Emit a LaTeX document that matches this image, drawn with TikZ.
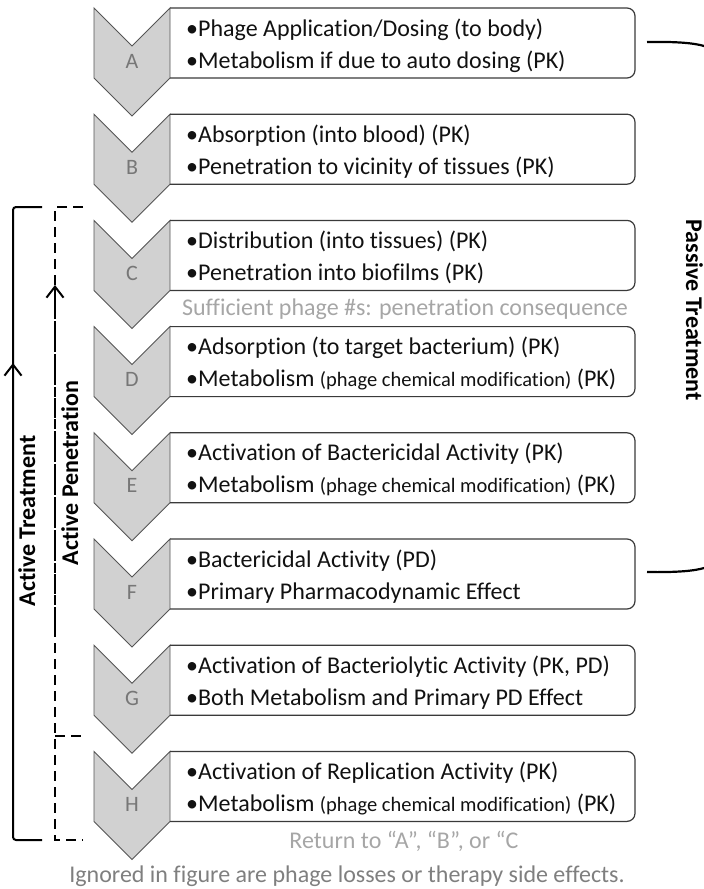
\documentclass[tikz,border=0pt]{standalone}
\usepackage{fontspec}
\setmainfont{Carlito}[Ligatures={NoCommon}]
\usetikzlibrary{arrows.meta}
\definecolor{chevfill}{HTML}{D1D1D1}
\definecolor{chevline}{HTML}{555555}
\definecolor{boxline}{HTML}{3A3A3A}
\definecolor{lettergray}{HTML}{777777}
\definecolor{capgray}{HTML}{A6A6A6}
\definecolor{notegray}{HTML}{7F7F7F}
\definecolor{txt}{HTML}{111111}
\newcommand\dgMain{\fontsize{24}{28}\selectfont}
\newcommand\dgSmall{\fontsize{20.5}{24}\selectfont}
\newcommand\dgLetter{\fontsize{22}{24}\selectfont}
\newcommand\dgstage[4]{%
  \pgfmathsetmacro\tp{8+106.2*#1}
  \draw[chev] (94,\tp) -- (132,\tp+38) -- (170,\tp) -- (170,\tp+70) -- (132,\tp+108) -- (94,\tp+70) -- cycle;
  \node[boxshape] (box#2) at (170,\tp) {};
  \draw[boxstroke] (box#2.north west) [rounded corners=8pt] -- (box#2.north east) -- (box#2.south east) -- (box#2.south west);
  \node[lettertext] (L#2) at (132,\tp+60) {#2};
  \node[linetext] (t#2a) at (186,\tp+28) {•#3};
  \node[linetext] (t#2b) at (186,\tp+60) {•#4};
}
\begin{document}
\begin{tikzpicture}[x=1pt,y=-1pt,
  chev/.style={fill=chevfill,draw=chevline,line width=0.9pt,line join=miter},
  boxshape/.style={draw=none,anchor=north west,minimum width=465pt,minimum height=70pt,inner sep=0pt,outer sep=0pt},
  boxstroke/.style={draw=boxline,line width=1.2pt},
  lettertext/.style={anchor=base,inner sep=0pt,text=lettergray,font=\dgLetter},
  linetext/.style={anchor=base west,inner sep=0pt,text=txt,font=\dgMain},
  captext/.style={anchor=base,inner sep=0pt,text=capgray,font=\dgMain},
  notetext/.style={anchor=base,inner sep=0pt,text=notegray,font=\dgMain},
  sidelabel/.style={anchor=base,inner sep=0pt,text=black,font=\dgMain\bfseries},
  bracket/.style={draw=black,line width=2pt},
  dbracket/.style={draw=black,line width=2pt,dash pattern=on 10pt off 6pt},
  barb/.style={-{Straight Barb[length=11pt,width=17pt,line width=2pt]}},
  brace/.style={draw=black,line width=2.2pt,line cap=butt}
]
\useasboundingbox (0,0) rectangle (704,889);

\dgstage{0}{A}{Phage Application/Dosing (to body)}{Metabolism if due to auto dosing (PK)}
\dgstage{1}{B}{Absorption (into blood) (PK)}{Penetration to vicinity of tissues (PK)}
\dgstage{2}{C}{Distribution (into tissues) (PK)}{Penetration into biofilms (PK)}
\dgstage{3}{D}{Adsorption (to target bacterium) (PK)}{Metabolism {\dgSmall(phage chemical modification)} (PK)}
\dgstage{4}{E}{Activation of Bactericidal Activity (PK)}{Metabolism {\dgSmall(phage chemical modification)} (PK)}
\dgstage{5}{F}{Bactericidal Activity (PD)}{Primary Pharmacodynamic Effect}
\dgstage{6}{G}{Activation of Bacteriolytic Activity (PK, PD)}{Both Metabolism and Primary PD Effect}
\dgstage{7}{H}{Activation of Replication Activity (PK)}{Metabolism {\dgSmall(phage chemical modification)} (PK)}

% captions
\node[captext] (suff) at (405,315) {Sufficient phage \#s: penetration consequence};
\node[captext] (ret) at (404,848) {Return to “A”, “B”, or “C};
\node[notetext] (ign) at (347,882) {Ignored in figure are phage losses or therapy side effects.};

% Active Treatment bracket (solid)
\coordinate (atT) at (42,207);
\coordinate (atTL) at (13,207);
\coordinate (atBL) at (13,840);
\coordinate (atB) at (42,840);
\coordinate (atFrom) at (13,470);
\coordinate (atTip) at (13,363);
\draw[bracket,rounded corners=3pt] (atT) -- (atTL) -- (atBL) -- (atB);
\draw[bracket,barb] (atFrom) -- (atTip);
\node[sidelabel,rotate=90] (atLab) at (35,521) {Active Treatment};

% Active Penetration bracket (dashed)
\coordinate (apT) at (83,207);
\coordinate (apTL) at (55,207);
\coordinate (apBL) at (55,840);
\coordinate (apB) at (83,840);
\coordinate (apMidL) at (55,736);
\coordinate (apMid) at (83,736);
\coordinate (apFrom) at (55,627);
\coordinate (apTip) at (55,285);
\draw[dbracket] (apT) -- (apTL) -- (apBL) -- (apB);
\draw[dbracket] (apMidL) -- (apMid);
\draw[draw=black,line width=2pt,dash pattern=on 9pt off 2pt,barb] (apFrom) -- (apTip);
\node[sidelabel,rotate=90] (apLab) at (78,473) {Active Penetration};

% Passive Treatment brace (right), its middle lies beyond the picture edge
\coordinate (ptTop) at (647,42);
\coordinate (ptTopEdge) at (704,46);
\coordinate (ptBot) at (647,572);
\coordinate (ptBotEdge) at (704,568);
\draw[brace] (ptTop) .. controls (676,41.5) and (694,43) .. (ptTopEdge);
\draw[brace] (ptBot) .. controls (676,572.5) and (694,571) .. (ptBotEdge);
\node[sidelabel,rotate=-90] (ptLab) at (686,310) {Passive Treatment};
\end{tikzpicture}
\end{document}
